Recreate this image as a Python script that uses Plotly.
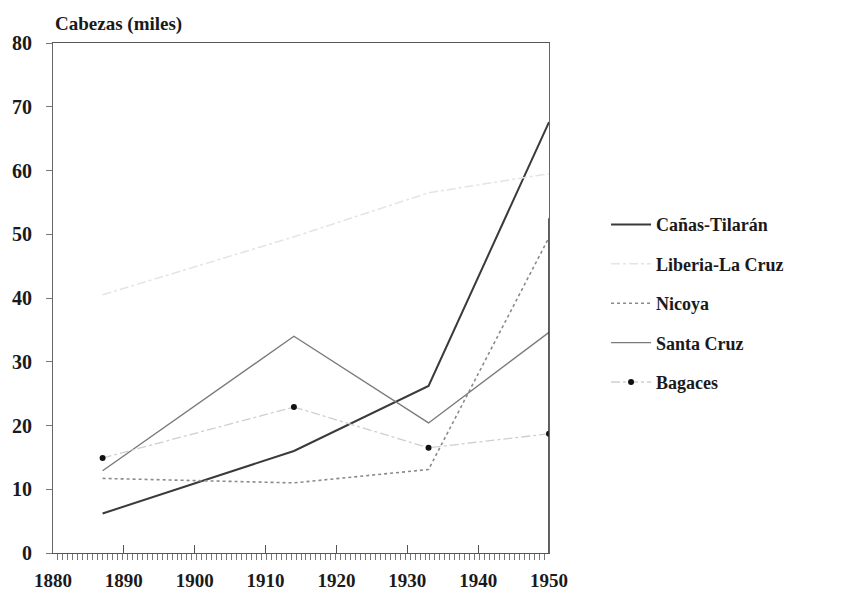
import plotly.graph_objects as go

# Censos ganaderos, Guanacaste (miles de cabezas)
years = [1887, 1914, 1933, 1950]
canas_tilaran = [6.2, 16.0, 26.2, 67.6]
liberia_la_cruz = [40.5, 49.6, 56.5, 59.5]
nicoya = [11.7, 11.0, 13.1, 49.5]
santa_cruz = [12.9, 34.0, 20.4, 34.6]
bagaces = [14.9, 22.9, 16.5, 18.7]

x_ticks = [1880, 1890, 1900, 1910, 1920, 1930, 1940, 1950]
y_ticks = [0, 10, 20, 30, 40, 50, 60, 70, 80]

SERIF = 'Liberation Serif, Times New Roman, serif'
INK = '#1a1a1a'

fig = go.Figure()
fig.add_trace(go.Scatter(x=years, y=canas_tilaran, name='Cañas-Tilarán', mode='lines',
                         line=dict(color='#3a3a3a', width=2), legendgroup='a'))
fig.add_trace(go.Scatter(x=years, y=liberia_la_cruz, name='Liberia-La Cruz', mode='lines',
                         line=dict(color='#e4e4e4', width=1.5, dash='dashdot'), legendgroup='b'))
fig.add_trace(go.Scatter(x=years, y=nicoya, name='Nicoya', mode='lines',
                         line=dict(color='#8a8a8a', width=1.6, dash='dot'), legendgroup='c'))
fig.add_trace(go.Scatter(x=years, y=santa_cruz, name='Santa Cruz', mode='lines',
                         line=dict(color='#7a7a7a', width=1.4), legendgroup='d'))
fig.add_trace(go.Scatter(x=years, y=bagaces, name='Bagaces', mode='lines+markers',
                         line=dict(color='#cfcfcf', width=1.3, dash='dashdot'),
                         marker=dict(color='#111', size=6), legendgroup='e'))

# darker stroke on the lower part of the right frame, as in the scan
fig.add_shape(type='line', xref='x', yref='y', x0=1950, x1=1950, y0=0, y1=52.5,
              line=dict(color='#333', width=1.6))

# page body adds 8px, so the figure is a bit smaller than the window
fig.update_layout(
    width=836, height=592,
    paper_bgcolor='white', plot_bgcolor='white',
    font=dict(family=SERIF, color=INK, size=16),
    margin=dict(l=45, r=295, t=35, b=47),
    showlegend=True,
    legend=dict(x=1.115, y=0.68, xanchor='left', yanchor='top',
                font=dict(family=SERIF, size=18, color=INK, weight='bold'),
                tracegroupgap=13, bgcolor='rgba(0,0,0,0)', itemwidth=40),
    xaxis=dict(range=[1880, 1950], tickvals=x_ticks, showgrid=False, zeroline=False,
               showline=True, linecolor='#555', linewidth=1, mirror=True,
               ticks='inside', ticklen=8, tickcolor='#555', automargin=False,
               ticklabelstandoff=10,
               tickfont=dict(family=SERIF, size=19, color=INK, weight='bold'),
               minor=dict(ticks='outside', ticklen=6, tick0=1880, dtick=0.7,
                          tickcolor='#777', showgrid=False)),
    yaxis=dict(range=[0, 80], tickvals=y_ticks, showgrid=False, zeroline=False,
               showline=True, linecolor='#666', linewidth=1, mirror=True,
               ticks='outside', ticklen=6, tickcolor='#777', automargin=False,
               ticklabelstandoff=10,
               tickfont=dict(family=SERIF, size=20, color=INK, weight='bold')),
    annotations=[dict(text='Cabezas (miles)', xref='paper', yref='paper', x=0.0, y=1.012,
                      xanchor='left', yanchor='bottom', showarrow=False,
                      font=dict(family=SERIF, size=19, color=INK, weight='bold'))],
)

fig.write_html('out.html')
